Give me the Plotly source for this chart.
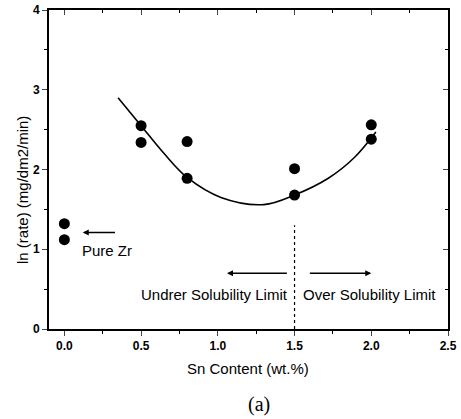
import plotly.graph_objects as go

# Measured data (Sn content vs ln(rate))
sn_content = [0.0, 0.0, 0.5, 0.5, 0.8, 0.8, 1.5, 1.5, 2.0, 2.0]
ln_rate = [1.32, 1.12, 2.55, 2.34, 2.35, 1.89, 2.01, 1.68, 2.56, 2.38]

# Fitted curve
fit_x = [0.35, 0.50, 0.65, 0.80, 1.02, 1.30, 1.50, 1.72, 1.89, 2.03]
fit_y = [2.90, 2.55, 2.20, 1.90, 1.65, 1.56, 1.68, 1.89, 2.15, 2.47]

x_ticks = [0.0, 0.5, 1.0, 1.5, 2.0, 2.5]
x_tick_labels = ["0.0", "0.5", "1.0", "1.5", "2.0", "2.5"]
y_ticks = [0, 1, 2, 3, 4]
y_tick_labels = ["0", "1", "2", "3", "4"]

solubility_limit = 1.5

FONT = "Liberation Sans, Arial, sans-serif"

fig = go.Figure()
fig.add_trace(go.Scatter(x=fit_x, y=fit_y, mode="lines", line=dict(color="black", width=1.6, shape="spline"),
                         showlegend=False, hoverinfo="skip"))
fig.add_trace(go.Scatter(x=sn_content, y=ln_rate, mode="markers",
                         marker=dict(color="black", size=11), showlegend=False))
fig.add_trace(go.Scatter(x=[solubility_limit, solubility_limit], y=[0, 1.3], mode="lines",
                         line=dict(color="black", width=1.2, dash="dot"), showlegend=False))
# invisible trace to create top/right axes
fig.add_trace(go.Scatter(x=[0], y=[0], xaxis="x2", yaxis="y2", mode="markers",
                         marker=dict(opacity=0), showlegend=False, hoverinfo="skip"))

xr = [-0.1, 2.5]
yr = [0, 4]
tickfont = dict(family=FONT, size=12, color="black", weight="bold")
fig.update_layout(
    width=461, height=419,
    margin=dict(l=49, r=13, t=10, b=90),
    plot_bgcolor="white", paper_bgcolor="white",
    xaxis=dict(range=xr, tickvals=x_ticks, ticktext=x_tick_labels, ticks="outside", ticklen=5,
               tickwidth=1.2, showline=True, linecolor="black", linewidth=2, showgrid=False,
               zeroline=False, tickfont=tickfont, automargin=False,
               minor=dict(dtick=0.25, tick0=0, ticks="outside", ticklen=3, tickcolor="black", showgrid=False)),
    yaxis=dict(range=yr, tickvals=y_ticks, ticktext=y_tick_labels, ticks="outside", ticklen=5,
               tickwidth=1.2, showline=True, linecolor="black", linewidth=2, showgrid=False,
               zeroline=False, tickfont=tickfont, automargin=False,
               minor=dict(dtick=0.5, tick0=0, ticks="outside", ticklen=3, tickcolor="black", showgrid=False)),
    xaxis2=dict(range=xr, overlaying="x", side="top", tickvals=x_ticks, ticks="inside", ticklen=5,
                showticklabels=False, showline=True, linecolor="black", linewidth=1.5, showgrid=False,
                zeroline=False, automargin=False,
                minor=dict(dtick=0.25, tick0=0, ticks="inside", ticklen=3, tickcolor="black")),
    yaxis2=dict(range=yr, overlaying="y", side="right", tickvals=y_ticks, ticks="inside", ticklen=5,
                showticklabels=False, showline=True, linecolor="black", linewidth=1.5, showgrid=False,
                zeroline=False, automargin=False,
                minor=dict(dtick=0.5, tick0=0, ticks="inside", ticklen=3, tickcolor="black")),
)

afont = dict(family=FONT, size=15, color="black")
# axis titles
fig.add_annotation(x=248, y=368, xref="paper", yref="paper", text="Sn Content (wt.%)", showarrow=False,
                   xanchor="center", yanchor="middle", font=dict(family=FONT, size=15, color="black"))
fig.add_annotation(x=22, y=190, xref="paper", yref="paper", text="ln (rate) (mg/dm2/min)", showarrow=False,
                   xanchor="center", yanchor="middle", textangle=-90, font=dict(family=FONT, size=15, color="black"))
# Pure Zr
fig.add_annotation(x=0.10, y=0.99, text="Pure Zr", showarrow=False, xanchor="left", yanchor="middle", font=afont)
fig.add_annotation(x=0.12, y=1.21, ax=0.34, ay=1.21, xref="x", yref="y", axref="x", ayref="y",
                   text="", showarrow=True, arrowhead=2, arrowsize=0.8, arrowwidth=1.5, arrowcolor="black")
# Under solubility
fig.add_annotation(x=1.47, y=0.43, text="Undrer Solubility Limit", showarrow=False, xanchor="right",
                   yanchor="middle", font=afont)
fig.add_annotation(x=1.06, y=0.70, ax=1.46, ay=0.70, xref="x", yref="y", axref="x", ayref="y",
                   text="", showarrow=True, arrowhead=2, arrowsize=0.8, arrowwidth=1.5, arrowcolor="black")
# Over solubility
fig.add_annotation(x=1.54, y=0.43, text="Over Solubility Limit", showarrow=False, xanchor="left",
                   yanchor="middle", font=afont)
fig.add_annotation(x=2.0, y=0.70, ax=1.59, ay=0.70, xref="x", yref="y", axref="x", ayref="y",
                   text="", showarrow=True, arrowhead=2, arrowsize=0.8, arrowwidth=1.5, arrowcolor="black")
# (a) caption
fig.add_annotation(x=259, y=404, xref="paper", yref="paper", text="(a)", showarrow=False,
                   xanchor="center", yanchor="middle",
                   font=dict(family="Liberation Serif, Times New Roman, serif", size=20, color="black"))

# convert pixel-placed paper annotations to paper coords
W, H, L, R, T, B = 461, 419, 49, 13, 10, 90
pw, ph = W - L - R, H - T - B
for a in fig.layout.annotations:
    if a.xref == "paper" and a.x > 1.5:
        a.x = (a.x - L) / pw
        a.y = (H - B - a.y) / ph

fig.write_html("out.html", config={"displayModeBar": False},
               post_script="document.body.style.margin='0';document.body.style.overflow='hidden';")
